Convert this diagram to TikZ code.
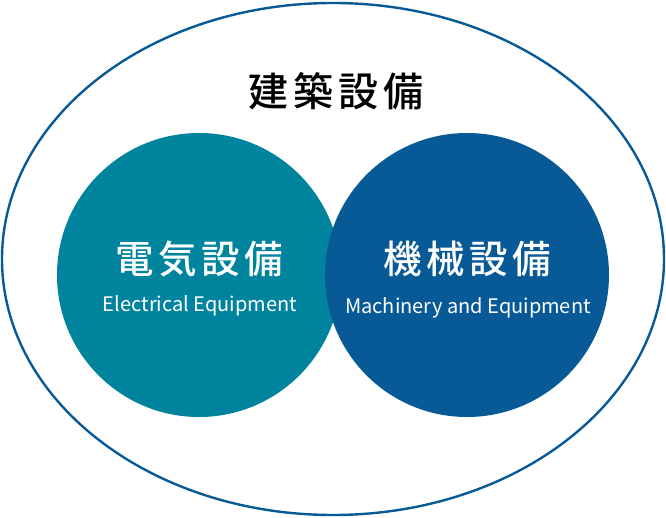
\documentclass[tikz,border=0pt]{standalone}
\usepackage{fontspec}
\newfontfamily\jpfont[LetterSpace=12]{Noto Sans CJK JP Medium}
\newfontfamily\enfont{Noto Sans CJK JP}
\definecolor{elec area}{HTML}{00849E}
\definecolor{mach area}{HTML}{085A97}
\tikzset{outline/.style={draw=mach area, line width=2.4pt},
    elecfill/.style={fill=elec area},
    machfill/.style={fill=mach area},
    bigtitle/.style={font=\jpfont\fontsize{40}{44}\selectfont, text=black, inner sep=0pt},
    jptitle/.style={font=\jpfont\fontsize{38.5}{42}\selectfont, text=white, inner sep=0pt},
    entitle/.style={font=\enfont\fontsize{20}{24}\selectfont, text=white, inner sep=0pt}}

\begin{document}
\begin{tikzpicture}[x=1pt,y=-1pt]
    % Definition of circles
    \def\outerellipse{(333,259) ellipse [x radius=331, y radius=256]}
    \def\firstcircle{(199,275) circle (142)}
    \def\secondcircle{(467,275) circle (142)}
    %
    \useasboundingbox (0,0) rectangle (666,518);
    \draw[outline] \outerellipse;
    \fill[elecfill] \firstcircle;
    \fill[machfill] \secondcircle;
    \node[bigtitle] (building) at (336,91) {建築設備};
    \node[jptitle] (elec) at (199,259) {電気設備};
    \node[entitle] (elecEn) at (200,306) {Electrical Equipment};
    \node[jptitle] (mach) at (467,259) {機械設備};
    \node[entitle] (machEn) at (468,308) {Machinery and Equipment};
\end{tikzpicture}
\end{document}
